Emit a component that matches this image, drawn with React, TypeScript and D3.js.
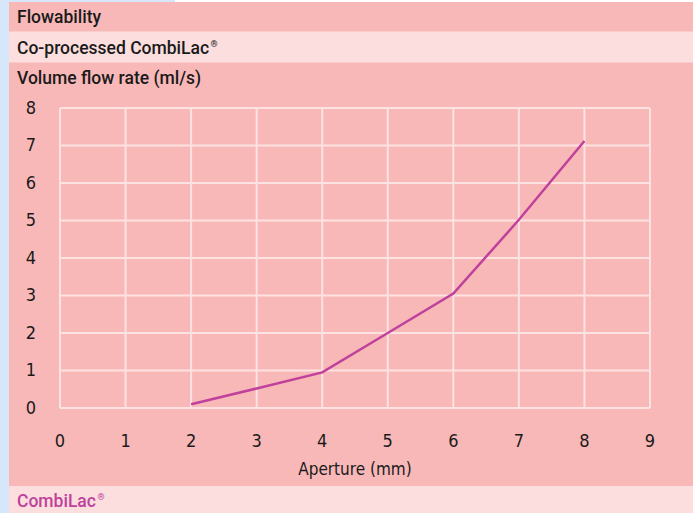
import React from "react";
import * as d3 from "d3";

const apertures = [2, 3, 4, 5, 6, 7, 8];
const flowRates = [0.1, 0.52, 0.95, 2.0, 3.05, 5.02, 7.12];
const xTicks = [0, 1, 2, 3, 4, 5, 6, 7, 8, 9];
const yTicks = [0, 1, 2, 3, 4, 5, 6, 7, 8];
const titleRows = ["Flowability", "Co-processed CombiLac", "Volume flow rate (ml/s)"];
const xAxisLabel = "Aperture (mm)";
const legendLabel = "CombiLac";

const W = 696;
const H = 513;
const PINK = "#f8b8b8";
const LIGHT = "#fcdede";
const BLUE = "#d5e7f8";
const GRID = "#fde2e2";
const MAGENTA = "#c0419c";
const FONT = "'DejaVu Sans Condensed', sans-serif";
const HFONT = "Roboto, 'DejaVu Sans Condensed', sans-serif";

export default function App() {
  const x = d3.scaleLinear().domain([0, 9]).range([60, 650]);
  const y = d3.scaleLinear().domain([0, 8]).range([408, 108]);
  const pts = apertures.map((a, i) => [a, flowRates[i]] as [number, number]);
  const line = d3
    .line<[number, number]>()
    .x((d) => x(d[0]))
    .y((d) => y(d[1]))
    .curve(d3.curveLinear);

  return (
    <svg
      width={W}
      height={H}
      style={{ position: "absolute", left: 0, top: 0, display: "block" }}
      fontFamily={FONT}
    >
      <rect x={0} y={0} width={W} height={H} fill="#ffffff" />
      <rect x={0} y={0} width={9} height={H} fill={BLUE} />
      <rect x={0} y={0} width={175} height={2} fill={BLUE} />
      <rect x={9} y={2} width={684} height={H - 2} fill={PINK} />
      <rect x={9} y={31.5} width={684} height={31} fill={LIGHT} />
      <rect x={9} y={486} width={684} height={H - 486} fill={LIGHT} />

      {titleRows.map((t, i) => (
        <text
          key={t}
          x={17}
          y={23 + i * 30.5}
          fontSize={17.5}
          fontWeight={500}
          fontFamily={HFONT}
          fill="#1a1a1a"
        >
          {t}
          {i === 1 ? (
            <tspan fontSize={9} dx={1.5} dy={-7}>
              ®
            </tspan>
          ) : null}
        </text>
      ))}

      <g>
        {xTicks.map((v) => (
          <line
            key={"gx" + v}
            x1={x(v)}
            x2={x(v)}
            y1={y(8)}
            y2={y(0)}
            stroke={GRID}
            strokeWidth={2}
          />
        ))}
        {yTicks.map((v) => (
          <line
            key={"gy" + v}
            x1={x(0)}
            x2={x(9)}
            y1={y(v)}
            y2={y(v)}
            stroke={GRID}
            strokeWidth={2}
          />
        ))}
      </g>

      {yTicks.map((v) => (
        <text
          key={"yl" + v}
          x={31}
          y={y(v) - 1}
          textAnchor="middle"
          dominantBaseline="central"
          fontSize={18}
          fill="#1a1a1a"
        >
          {v}
        </text>
      ))}
      {xTicks.map((v) => (
        <text
          key={"xl" + v}
          x={x(v)}
          y={440}
          textAnchor="middle"
          dominantBaseline="central"
          fontSize={18}
          fill="#1a1a1a"
        >
          {v}
        </text>
      ))}
      <text
        x={(x(0) + x(9)) / 2}
        y={469}
        textAnchor="middle"
        dominantBaseline="central"
        fontSize={17}
        fill="#1a1a1a"
      >
        {xAxisLabel}
      </text>

      <path d={line(pts) || ""} fill="none" stroke={MAGENTA} strokeWidth={2.5} />

      <text x={17} y={507} fontSize={17.5} fontWeight={500} fontFamily={HFONT} fill={MAGENTA}>
        {legendLabel}
        <tspan fontSize={9} dx={1.5} dy={-7}>
          ®
        </tspan>
      </text>
    </svg>
  );
}
